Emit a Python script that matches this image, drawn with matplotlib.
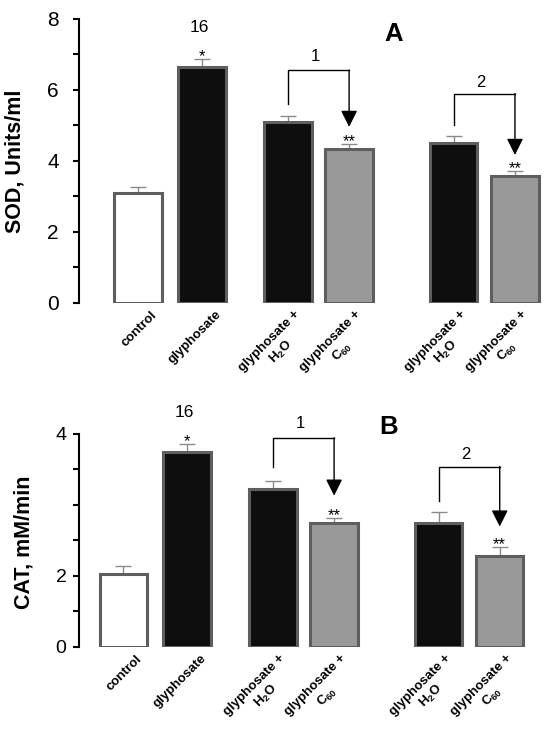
import matplotlib
matplotlib.use("Agg")
import matplotlib.pyplot as plt
import matplotlib.transforms as mtransforms

plt.rcParams['font.family'] = ['Liberation Sans', 'DejaVu Sans']
plt.rcParams['mathtext.fontset'] = 'custom'
plt.rcParams['mathtext.rm'] = 'Liberation Sans:bold'
plt.rcParams['mathtext.bf'] = 'Liberation Sans:bold'
plt.rcParams['mathtext.default'] = 'bf'

# data
groups = ['control', 'glyphosate', 'glyphosate +\nH$_2$O', 'glyphosate +\nC$_{60}$',
          'glyphosate +\nH$_2$O', 'glyphosate +\nC$_{60}$']
sod = [3.10, 6.65, 5.10, 4.34, 4.50, 3.58]
sod_err = [0.17, 0.22, 0.17, 0.14, 0.20, 0.14]
cat = [2.05, 5.48, 4.45, 3.48, 3.50, 2.57]
cat_err = [0.23, 0.23, 0.23, 0.16, 0.29, 0.24]
n_label = '16'

pos = [0, 1, 2.35, 3.31, 4.95, 5.91]
fills = ['white', '#0e0e0e', '#0e0e0e', '#999999', '#0e0e0e', '#999999']
edge = '#5e5e5e'
width = 0.745

fig = plt.figure(figsize=(5.5, 7.3), dpi=100)
axA = fig.add_axes([0.1436, 0.585, 0.853, 0.389])
axB = fig.add_axes([0.1436, 0.1137, 0.853, 0.292])


def draw_panel(ax, vals, errs, xlim, ylim, yticks, ytick_labels, minor, ylabel, pad, tsize):
    ax.bar(pos, vals, width=width, color=fills, edgecolor=edge, linewidth=2.2, zorder=2)
    ax.errorbar(pos, vals, yerr=[[0] * len(errs), errs], fmt='none', ecolor='#8a8a8a',
                elinewidth=1, capsize=6, capthick=1, zorder=1)
    ax.set_xlim(xlim)
    ax.set_ylim(ylim)
    for s in ['top', 'right', 'bottom']:
        ax.spines[s].set_visible(False)
    ax.spines['left'].set_linewidth(1.5)
    ax.set_yticks(yticks)
    ax.set_yticklabels(ytick_labels, fontsize=tsize)
    ax.set_yticks(minor, minor=True)
    ax.tick_params(axis='y', which='both', direction='out', length=4.5, width=1.5, pad=pad)
    ax.set_ylabel(ylabel, fontsize=15.5, fontweight='bold')
    ax.set_xticks(pos)
    ax.set_xticklabels(groups, rotation=45, ha='right', va='top', rotation_mode='anchor',
                       fontsize=9.5, fontweight='bold', multialignment='center')
    ax.tick_params(axis='x', length=0, pad=4)
    for lab in ax.get_xticklabels():
        shift = 0.06 if '\n' in lab.get_text() else 0.13
        offset = mtransforms.ScaledTranslation(shift, 0, fig.dpi_scale_trans)
        lab.set_transform(lab.get_transform() + offset)


def stars(ax, x, top, s):
    ax.text(x, top - 0.06, s, ha='center', va='baseline', fontsize=12)


def bracket(ax, x0, x1, y0, ytop, yend, label, ylab):
    ax.plot([x0, x0, x1], [y0, ytop, ytop], color='black', lw=1)
    ax.annotate('', xy=(x1, yend), xytext=(x1, ytop),
                arrowprops=dict(arrowstyle='-|>', color='black', lw=1,
                                mutation_scale=25, shrinkA=0, shrinkB=0))
    ax.text((x0 + x1) / 2 - 0.05, ylab, label, ha='center', va='center', fontsize=12)


# panel A
draw_panel(axA, sod, sod_err, (-0.925, 6.43), (0, 8), [0, 2, 4, 6, 8],
           ['0', '2', '4', '6', '8'], [1, 3, 5, 7], 'SOD, Units/ml', 10, 15)
axA.yaxis.set_label_coords(-0.114, 0.5)
axA.text(0.96, 7.76, n_label, ha='center', va='center', fontsize=12.5)
stars(axA, pos[1], sod[1] + sod_err[1], '*')
stars(axA, pos[3], sod[3] + sod_err[3], '**')
stars(axA, pos[5], sod[5] + sod_err[5], '**')
bracket(axA, pos[2], pos[3], 5.6, 6.56, 4.96, '1', 6.93)
bracket(axA, pos[4], pos[5], 5.0, 5.9, 4.17, '2', 6.2)
axA.text(4.01, 7.58, 'A', ha='center', va='center', fontsize=18.5, fontweight='bold')

# panel B
draw_panel(axB, cat, cat_err, (-0.695, 6.67), (0, 6), [0, 2, 6],
           ['0', '2', '4'], [1, 3, 4, 5], 'CAT, mM/min', 4.5, 14)
axB.yaxis.set_label_coords(-0.095, 0.49)
axB.text(0.96, 6.6, n_label, ha='center', va='center', fontsize=12.5)
stars(axB, pos[1], cat[1] + cat_err[1], '*')
stars(axB, pos[3], cat[3] + cat_err[3], '**')
stars(axB, pos[5], cat[5] + cat_err[5], '**')
bracket(axB, pos[2], pos[3], 5.06, 5.89, 4.26, '1', 6.3)
bracket(axB, pos[4], pos[5], 4.11, 5.08, 3.39, '2', 5.41)
axB.text(4.17, 6.2, 'B', ha='center', va='center', fontsize=18.5, fontweight='bold')

for ax in (axA, axB):
    for artist in ax.texts + ax.lines:
        artist.set_clip_on(False)

fig.savefig('out.png', dpi=100)
